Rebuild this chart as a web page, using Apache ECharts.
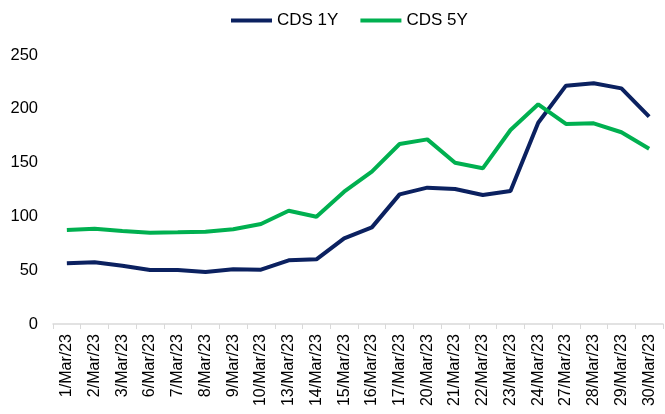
<!DOCTYPE html>
<html><head><meta charset="utf-8">
<script src="https://cdn.jsdelivr.net/npm/echarts@6/dist/echarts.min.js"></script>
<style>html,body{margin:0;padding:0;background:#fff}#c{width:665px;height:414px}</style>
</head><body><div id="c"></div>
<script>
const categories = ['1/Mar/23','2/Mar/23','3/Mar/23','6/Mar/23','7/Mar/23','8/Mar/23','9/Mar/23','10/Mar/23','13/Mar/23','14/Mar/23','15/Mar/23','16/Mar/23','17/Mar/23','20/Mar/23','21/Mar/23','22/Mar/23','23/Mar/23','24/Mar/23','27/Mar/23','28/Mar/23','29/Mar/23','30/Mar/23'];
const cds1y = [56.4,57.3,54.2,50.2,50.2,48.3,50.8,50.5,59.2,60.1,79.6,89.8,120.5,126.7,125.5,119.9,123.6,187.1,221.5,223.7,219.0,192.7];
const cds5y = [87.4,88.6,86.4,84.9,85.2,85.8,88.0,92.9,105.3,99.7,123.0,141.6,167.3,171.6,149.9,144.7,180.3,204.2,185.9,186.5,178.2,162.9];
const yTicks = [0,50,100,150,200,250];
const FONT = 'Liberation Sans, Arial, sans-serif';

const chart = echarts.init(document.getElementById('c'));
chart.setOption({
  animation:false,
  textStyle:{fontFamily:FONT},
  legend:{
    top:7, left:226, itemWidth:41, itemHeight:4, itemGap:22,
    icon:'rect',
    textStyle:{fontSize:17,color:'#000',fontFamily:FONT},
    data:['CDS 1Y','CDS 5Y']
  },
  grid:{left:53,right:2,top:55,bottom:90},
  xAxis:{
    type:'category', data:categories, boundaryGap:true,
    axisLine:{lineStyle:{color:'#d9d9d9',width:1.5}},
    axisTick:{show:true,interval:0,length:5,lineStyle:{color:'#d9d9d9'}},
    axisLabel:{interval:0,rotate:90,fontSize:16,color:'#000',margin:10,fontFamily:FONT}
  },
  yAxis:{
    type:'value', min:0, max:250, interval:50,
    axisLine:{show:false}, axisTick:{show:false}, splitLine:{show:false},
    axisLabel:{fontSize:16.5,color:'#000',margin:15,fontFamily:FONT,
      formatter:v=>yTicks.includes(v)?String(v):''}
  },
  series:[
    {name:'CDS 1Y',type:'line',data:cds1y,symbol:'none',lineStyle:{color:'#0b2160',width:4},itemStyle:{color:'#0b2160'}},
    {name:'CDS 5Y',type:'line',data:cds5y,symbol:'none',lineStyle:{color:'#00b050',width:4},itemStyle:{color:'#00b050'}}
  ]
});
</script></body></html>
